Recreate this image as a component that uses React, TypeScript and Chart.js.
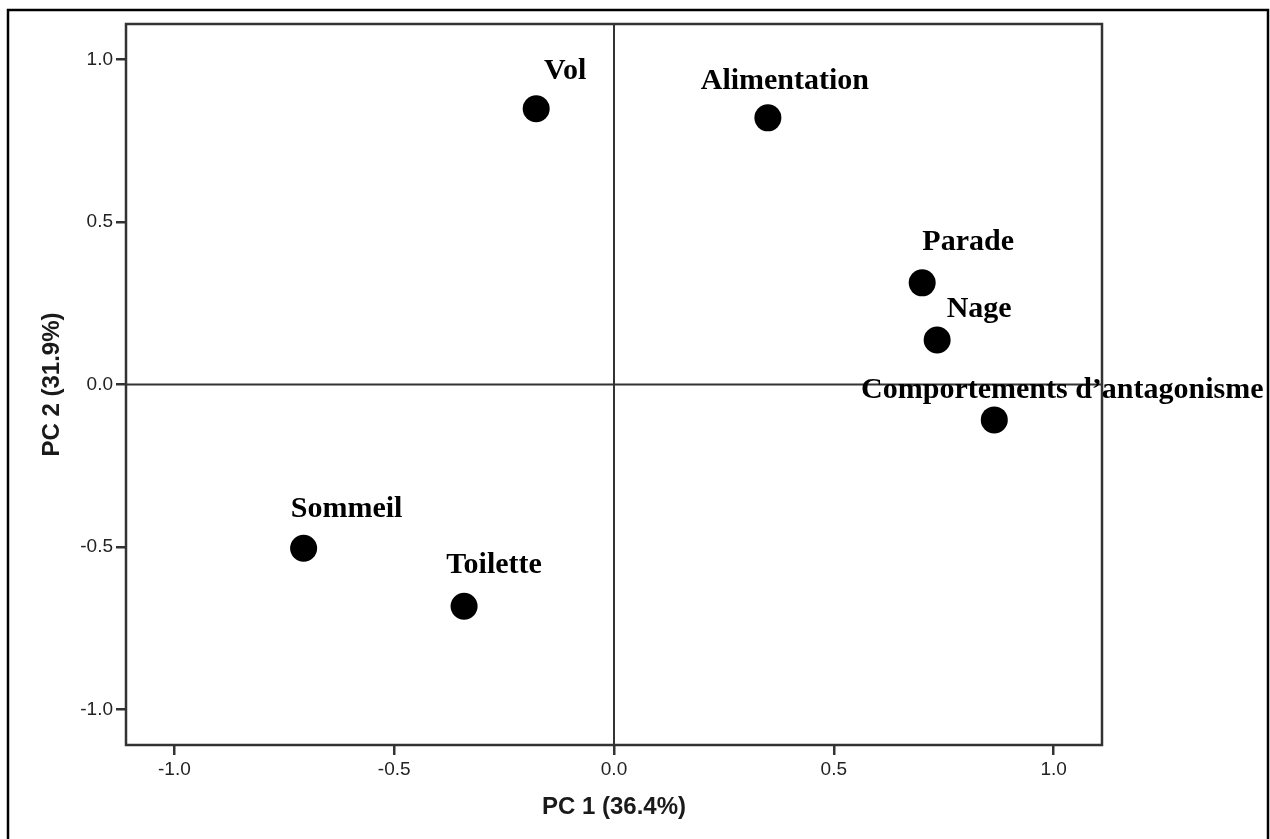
import React, { useEffect, useRef } from "react";
import { Chart, registerables } from "chart.js";

Chart.register(...registerables);

// ---- data ----
const behaviours = ["Vol", "Alimentation", "Parade", "Nage", "Comportements d\u2019antagonisme", "Sommeil", "Toilette"];
const pc1 = [-0.177, 0.35, 0.701, 0.735, 0.865, -0.706, -0.341];
const pc2 = [0.849, 0.821, 0.313, 0.137, -0.109, -0.504, -0.683];
const axisTicks = [-1.0, -0.5, 0.0, 0.5, 1.0];
const xTitle = "PC 1 (36.4%)";
const yTitle = "PC 2 (31.9%)";

// label placement (style) relative to each point: [dx, dy] in px
const labelOffsets: Record<string, [number, number]> = {
  "Vol": [29, -30],
  "Alimentation": [17, -29],
  "Parade": [46, -33],
  "Nage": [42, -23],
  "Comportements d\u2019antagonisme": [68, -22],
  "Sommeil": [43, -31],
  "Toilette": [30, -33],
};

const W = 1270;
const H = 839;

const decorPlugin = {
  id: "decor",
  beforeDatasetsDraw(chart: any) {
    const { ctx, chartArea } = chart;
    const xs = chart.scales.x;
    const ys = chart.scales.y;
    ctx.save();
    ctx.strokeStyle = "#333";
    ctx.lineWidth = 2;
    const x0 = xs.getPixelForValue(0);
    const y0 = ys.getPixelForValue(0);
    ctx.beginPath();
    ctx.moveTo(x0, chartArea.top);
    ctx.lineTo(x0, chartArea.bottom);
    ctx.moveTo(chartArea.left, y0);
    ctx.lineTo(chartArea.right, y0);
    ctx.stroke();
    ctx.restore();
  },
  afterDatasetsDraw(chart: any) {
    const { ctx, chartArea } = chart;
    ctx.save();
    // plot frame
    ctx.strokeStyle = "#333";
    ctx.lineWidth = 2.5;
    ctx.strokeRect(chartArea.left, chartArea.top, chartArea.right - chartArea.left, chartArea.bottom - chartArea.top);
    // outer frame
    ctx.strokeStyle = "#000";
    ctx.lineWidth = 2.5;
    ctx.strokeRect(8, 10, 1260, 900);
    // point labels
    const meta = chart.getDatasetMeta(0);
    ctx.fillStyle = "#000";
    ctx.font = "bold 30px 'Liberation Serif', 'Times New Roman', serif";
    ctx.textAlign = "center";
    ctx.textBaseline = "alphabetic";
    meta.data.forEach((pt: any, i: number) => {
      const name = behaviours[i];
      const off = labelOffsets[name] || [0, -28];
      ctx.fillText(name, pt.x + off[0], pt.y + off[1]);
    });
    ctx.restore();
  },
};

export default function App() {
  const ref = useRef<HTMLCanvasElement | null>(null);

  useEffect(() => {
    if (!ref.current) return;
    const points = pc1.map((x, i) => ({ x, y: pc2[i] }));
    const tickFont = { family: "'Liberation Sans', Arial, sans-serif", size: 19 };
    const titleFont = { family: "'Liberation Sans', Arial, sans-serif", size: 24, weight: "bold" as const };
    const chart = new Chart(ref.current, {
      type: "scatter",
      data: {
        datasets: [
          {
            data: points,
            pointRadius: 13.5,
            pointHoverRadius: 13.5,
            backgroundColor: "#000",
            borderWidth: 0,
          },
        ],
      },
      options: {
        responsive: false,
        animation: false,
        events: [],
        layout: { padding: { left: 0, top: 24, right: 168, bottom: 0 } },
        plugins: { legend: { display: false }, tooltip: { enabled: false } },
        scales: {
          x: {
            type: "linear",
            min: -1.11,
            max: 1.11,
            afterBuildTicks: (s: any) => {
              s.ticks = axisTicks.map((v) => ({ value: v }));
            },
            afterFit: (s: any) => {
              s.height = 94;
            },
            grid: { drawOnChartArea: false, drawTicks: true, tickLength: 10, color: "#333", lineWidth: 2.5 },
            border: { display: false },
            ticks: {
              font: tickFont,
              color: "#222",
              padding: 3,
              maxRotation: 0,
              callback: (v: any) => Number(v).toFixed(1),
            },
            title: { display: true, text: xTitle, font: titleFont, color: "#1a1a1a", padding: { top: 0, bottom: 17 } },
          },
          y: {
            type: "linear",
            min: -1.11,
            max: 1.11,
            afterBuildTicks: (s: any) => {
              s.ticks = axisTicks.map((v) => ({ value: v }));
            },
            afterFit: (s: any) => {
              s.width = 126;
            },
            grid: { drawOnChartArea: false, drawTicks: true, tickLength: 10, color: "#333", lineWidth: 2.5 },
            border: { display: false },
            ticks: {
              font: tickFont,
              color: "#222",
              padding: 3,
              callback: (v: any) => Number(v).toFixed(1),
            },
            title: { display: true, text: yTitle, font: titleFont, color: "#1a1a1a", padding: { top: 38, bottom: 0 } },
          },
        },
      },
      plugins: [decorPlugin],
    });
    return () => chart.destroy();
  }, []);

  return (
    <div style={{ position: "absolute", left: 0, top: 0, width: W, height: H, background: "#fff" }}>
      <canvas ref={ref} width={W} height={H} style={{ display: "block", width: W, height: H }} />
    </div>
  );
}
